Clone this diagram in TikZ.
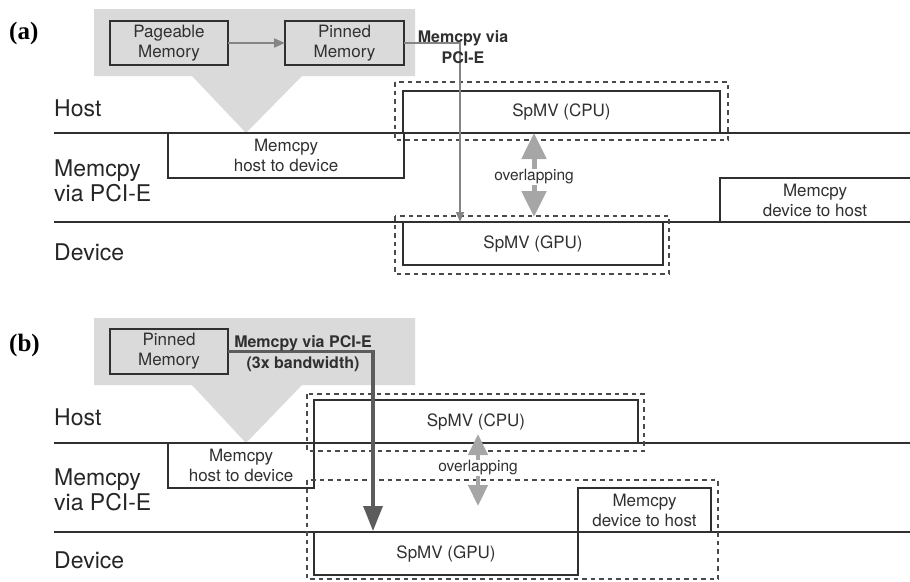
\documentclass[tikz,border=0pt]{standalone}
\usepackage{fontspec}
\setmainfont{TeX Gyre Heros}
\newfontfamily\panelfont{Liberation Serif}
\usetikzlibrary{arrows.meta}
\definecolor{ink}{HTML}{303030}
\definecolor{laneink}{HTML}{262626}
\definecolor{dashgray}{HTML}{4A4A4A}
\definecolor{bggray}{HTML}{DADADA}
\definecolor{thingray}{HTML}{858585}
\definecolor{darkarrow}{HTML}{5C5C5C}
\definecolor{ovlgray}{HTML}{A6A6A6}
\begin{document}
\begin{tikzpicture}[x=1pt,y=-1pt,
  panel/.style={text=black, font=\panelfont\bfseries\fontsize{25}{27}\selectfont, inner sep=0pt, anchor=west},
  lane/.style={anchor=west, text=laneink, font=\fontsize{23}{25}\selectfont, align=left, inner sep=0pt},
  boxtext/.style={text=ink, font=\fontsize{17}{20}\selectfont, align=center, inner sep=0pt, outer sep=0pt},
  box/.style={boxtext, draw=ink, line width=2pt},
  boldlabel/.style={text=ink, font=\bfseries\fontsize{16}{21}\selectfont, align=center, inner sep=0pt},
  ovltext/.style={text=ink, font=\fontsize{15.5}{18}\selectfont, inner sep=0pt},
  timeline/.style={draw=ink, line width=2pt},
  edge/.style={draw=ink, line width=2pt},
  group/.style={draw=dashgray, line width=2.4pt, dash pattern=on 4.5pt off 4pt},
  bgshape/.style={fill=bggray, draw=none},
  stagearrow/.style={draw=thingray, line width=2pt, -{Triangle[width=9pt,length=11pt]}},
  pciearrow/.style={draw=thingray, line width=1.6pt, -{Triangle[width=8pt,length=10pt]}},
  fastarrow/.style={draw=darkarrow, line width=3.2pt, -{Triangle[width=19pt,length=25pt]}},
  ovlarrow/.style={draw=ovlgray, line width=5pt, -{Triangle[width=24pt,length=26pt]}},
  ovlarrowb/.style={draw=ovlgray, line width=4.5pt, -{Triangle[width=19pt,length=21pt]}}
]
\useasboundingbox (0,0) rectangle (910,581);

% ---------------- panel (a) ----------------
\node[panel] (pa) at (9,33) {(a)};

% staging area behind the host buffers
\fill[bgshape] (94,9) -- (415,9) -- (415,76) -- (302,76) -- (246,133) -- (192,76) -- (94,76) -- cycle;

% time lanes
\coordinate (hostA0) at (54,133);  \coordinate (hostA1) at (910,133);
\coordinate (devA0) at (54,222);   \coordinate (devA1) at (910,222);
\draw[timeline] (hostA0) -- (hostA1);
\draw[timeline] (devA0) -- (devA1);
\node[lane] (laneHostA) at (54,108) {Host};
\node[lane] (laneCopyA) at (54,180.5) {Memcpy\\via PCI-E};
\node[lane] (laneDevA) at (54,252) {Device};

% host buffers
\node[box, minimum width=118pt, minimum height=44pt] (pageA) at (169,43) {Pageable\\Memory};
\node[box, minimum width=119pt, minimum height=44pt] (pinA) at (344.5,43) {Pinned\\Memory};
\draw[stagearrow] (pageA) -- (pinA);

% work blocks
\node[box, minimum width=317pt, minimum height=42pt] (cpuA) at (561.5,112) {SpMV (CPU)};
\node[box, minimum width=260pt, minimum height=43pt] (gpuA) at (533,243.5) {SpMV (GPU)};
\node[boxtext, minimum width=236pt, minimum height=45pt] (h2dA) at (286,155.5) {Memcpy\\host to device};
\draw[edge] (h2dA.north west) -- (h2dA.south west) -- (h2dA.south east) -- (h2dA.north east);
\node[boxtext, minimum width=190pt, minimum height=44pt] (d2hA) at (815,200) {Memcpy\\device to host};
\draw[edge] (d2hA.south west) -- (d2hA.north west) -- (d2hA.north east);

% overlapping groups
\draw[group] (395,82) rectangle (728,140);
\draw[group] (395,216) rectangle (669,274);

% transfer path
\coordinate (dropA) at (460,222);
\draw[pciearrow] (pinA.east) -| (dropA);
\node[boldlabel] (viaA) at (463,47.5) {Memcpy via\\PCI-E};

% overlap marker
\node[ovltext] (ovlA) at (534,177) {overlapping};
\coordinate (ovlAtop) at (534,133);
\coordinate (ovlAbot) at (534,217);
\draw[ovlarrow] (ovlA.north) -- (ovlAtop);
\draw[ovlarrow] (ovlA.south) -- (ovlAbot);

% ---------------- panel (b) ----------------
\node[panel] (pb) at (9,345) {(b)};

\fill[bgshape] (94,318) -- (415,318) -- (415,385) -- (302,385) -- (246,443) -- (192,385) -- (94,385) -- cycle;

\coordinate (hostB0) at (54,443);  \coordinate (hostB1) at (910,443);
\coordinate (devB0) at (54,532);   \coordinate (devB1) at (910,532);
\draw[timeline] (hostB0) -- (hostB1);
\draw[timeline] (devB0) -- (devB1);
\node[lane] (laneHostB) at (54,417) {Host};
\node[lane] (laneCopyB) at (54,490) {Memcpy\\via PCI-E};
\node[lane] (laneDevB) at (54,560) {Device};

\node[box, minimum width=118pt, minimum height=45pt] (pinB) at (169,351.5) {Pinned\\Memory};

\node[box, minimum width=324pt, minimum height=43pt] (cpuB) at (476,421.5) {SpMV (CPU)};
\node[box, minimum width=264pt, minimum height=43pt] (gpuB) at (446,553.5) {SpMV (GPU)};
\node[boxtext, minimum width=146pt, minimum height=45pt] (h2dB) at (241,465.5) {Memcpy\\host to device};
\draw[edge] (h2dB.north west) -- (h2dB.south west) -- (h2dB.south east) -- (h2dB.north east);
\node[box, minimum width=133pt, minimum height=44pt] (d2hB) at (644.5,510) {Memcpy\\device to host};

\draw[group] (307,394) rectangle (644,451);
\draw[group] (307,480) rectangle (718,579);

\coordinate (dropB) at (373,531);
\draw[fastarrow] (pinB.east) -| (dropB);
\node[boldlabel] (viaB) at (303,353.5) {Memcpy via PCI-E\\(3x bandwidth)};

\node[ovltext] (ovlB) at (478,468) {overlapping};
\coordinate (ovlBtop) at (478,434);
\coordinate (ovlBbot) at (478,506);
\draw[ovlarrowb] (ovlB.north) -- (ovlBtop);
\draw[ovlarrowb] (ovlB.south) -- (ovlBbot);
\end{tikzpicture}
\end{document}
